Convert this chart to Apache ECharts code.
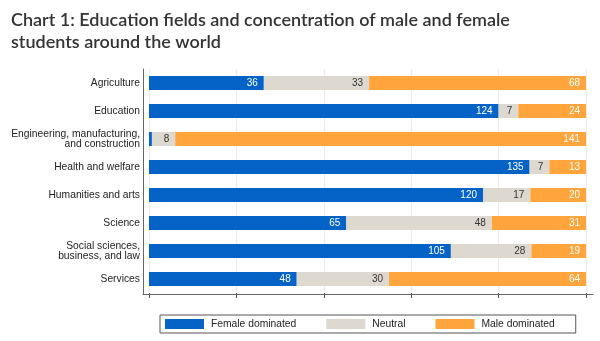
<!DOCTYPE html>
<html>
<head>
<meta charset="utf-8">
<script src="https://cdn.jsdelivr.net/npm/echarts@6/dist/echarts.min.js"></script>
<style>html,body{margin:0;padding:0;background:#fff;}#c{width:600px;height:341px;}</style>
</head>
<body>
<div id="c"></div>
<script>
var categories = ['Agriculture', 'Education', 'Engineering, manufacturing,\nand construction', 'Health and welfare', 'Humanities and arts', 'Science', 'Social sciences,\nbusiness, and law', 'Services'];
var femaleDominated = [36, 124, 1, 135, 120, 65, 105, 48];
var neutral = [33, 7, 8, 7, 17, 48, 28, 30];
var maleDominated = [68, 24, 141, 13, 20, 31, 19, 64];
var seriesNames = ['Female dominated', 'Neutral', 'Male dominated'];
var colors = ['#0563C8', '#DDD8D0', '#FFA53B'];
var labelColors = ['#ffffff', '#333333', '#ffffff'];

var counts = [femaleDominated, neutral, maleDominated];
var totals = categories.map(function (_, i) { return femaleDominated[i] + neutral[i] + maleDominated[i]; });

var chart = echarts.init(document.getElementById('c'));
var gridTop = 69, gridH = 224;
var baseFont = 'Liberation Sans, Arial, sans-serif';

var series = counts.map(function (arr, s) {
  return {
    name: seriesNames[s],
    type: 'bar',
    stack: 'all',
    xAxisIndex: 0, yAxisIndex: 0,
    barWidth: 14,
    itemStyle: { color: colors[s] },
    data: arr.map(function (v, i) { return v / totals[i] * 100; }),
    label: {
      show: true,
      position: 'insideRight',
      distance: 6,
      color: labelColors[s],
      fontSize: 10,
      fontFamily: baseFont,
      formatter: function (p) { var c = arr[p.dataIndex]; return c < 3 ? '' : String(c); }
    }
  };
});

chart.setOption({
  animation: false,
  title: {
    text: 'Chart 1: Education fields and concentration of male and female\nstudents around the world',
    left: 6, top: 4,
    textStyle: { fontFamily: 'Lato', fontWeight: 600, fontSize: 18, lineHeight: 22, color: '#333333' }
  },
  legend: {
    data: seriesNames,
    left: 160, top: 315,
    orient: 'horizontal',
    itemWidth: 39, itemHeight: 10, itemGap: 30,
    padding: [4, 21, 4, 5],
    borderColor: '#555555', borderWidth: 1,
    icon: 'rect',
    textStyle: { fontSize: 10.3, color: '#222222', fontFamily: baseFont, padding: [0, 0, 0, 2] }
  },
  grid: [
    { left: 149, right: 14, top: gridTop, height: gridH },
    { left: 143, right: 7, top: gridTop, height: gridH + 1 }
  ],
  xAxis: [
    {
      type: 'value', gridIndex: 0, min: 0, max: 100, interval: 20,
      axisLine: { show: false },
      axisTick: { show: true, length: 5, lineStyle: { color: '#555555' } },
      axisLabel: { show: false },
      splitLine: { show: true, lineStyle: { color: '#ECECEC', width: 1 } }
    },
    {
      type: 'value', gridIndex: 1, min: 0, max: 1,
      axisLine: { show: true, lineStyle: { color: '#666666' } },
      axisTick: { show: false }, axisLabel: { show: false }, splitLine: { show: false }
    }
  ],
  yAxis: [
    {
      type: 'category', gridIndex: 0, data: categories, inverse: true,
      axisLine: { show: false }, axisTick: { show: false },
      axisLabel: { margin: 9, fontSize: 10.3, lineHeight: 10, color: '#222222', fontFamily: baseFont }
    },
    {
      type: 'value', gridIndex: 1, min: 0, max: 1,
      axisLine: { show: true, lineStyle: { color: '#666666' } },
      axisTick: { show: false }, axisLabel: { show: false }, splitLine: { show: false }
    }
  ],
  series: series
});
</script>
</body>
</html>
